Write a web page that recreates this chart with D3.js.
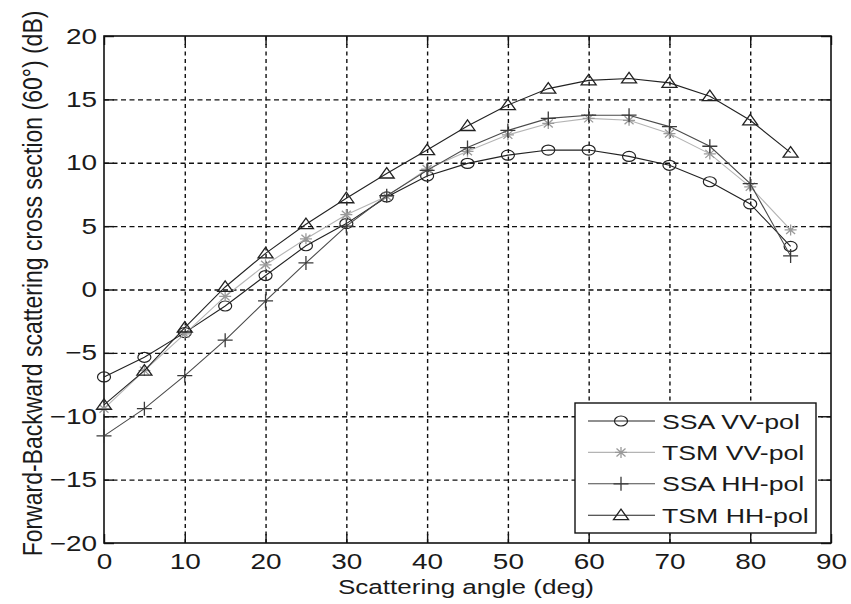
<!DOCTYPE html>
<html>
<head>
<meta charset="utf-8">
<script src="https://cdn.jsdelivr.net/npm/d3@7"></script>
<style>
  body { margin: 0; background: #fff; }
  text { font-family: "Liberation Sans", Arial, sans-serif; fill: #1a1a1a; }
</style>
</head>
<body>
<div id="chart"></div>
<script>
// scattering angle (deg)
var angles = [0, 5, 10, 15, 20, 25, 30, 35, 40, 45, 50, 55, 60, 65, 70, 75, 80, 85];

// cross section values (dB)
var ssaVV = [-6.9, -5.35, -3.4, -1.3, 1.1, 3.45, 5.2, 7.3, 8.95, 9.95, 10.6, 11.0, 11.0, 10.5, 9.8, 8.5, 6.75, 3.4];
var tsmVV = [-9.4, -6.4, -3.5, -0.55, 1.95, 4.0, 5.9, 7.35, 9.5, 10.9, 12.2, 13.1, 13.5, 13.35, 12.3, 10.7, 8.1, 4.7];
var ssaHH = [-11.55, -9.4, -6.8, -4.0, -0.9, 2.1, 5.0, 7.4, 9.4, 11.2, 12.55, 13.5, 13.75, 13.75, 12.85, 11.3, 8.35, 2.65];
var tsmHH = [-9.1, -6.4, -3.0, 0.2, 2.85, 5.15, 7.2, 9.15, 11.0, 12.9, 14.55, 15.85, 16.5, 16.65, 16.3, 15.25, 13.35, 10.8];

var seriesNames = ["SSA VV-pol", "TSM VV-pol", "SSA HH-pol", "TSM HH-pol"];
var xTicks = [0, 10, 20, 30, 40, 50, 60, 70, 80, 90];
var yTicks = [-20, -15, -10, -5, 0, 5, 10, 15, 20];

function init() {
    var W = 851, H = 604;
    var left = 104, right = 831, top = 36, bottom = 543;
    var sx = 1.27; // the picture is stretched sideways

    var series = [
        { name: seriesNames[0], values: ssaVV, line: "#222", mark: "#222", marker: "circle" },
        { name: seriesNames[1], values: tsmVV, line: "#b4b4b4", mark: "#9a9a9a", marker: "star" },
        { name: seriesNames[2], values: ssaHH, line: "#4a4a4a", mark: "#3a3a3a", marker: "plus" },
        { name: seriesNames[3], values: tsmHH, line: "#222", mark: "#222", marker: "triangle" }
    ];

    var xScale = d3.scaleLinear().domain([0, 90]).range([left, right]);
    var yScale = d3.scaleLinear().domain([-20, 20]).range([bottom, top]);

    var svg = d3.select("#chart").append("svg")
        .attr("width", W).attr("height", H);

    svg.append("rect").attr("width", W).attr("height", H).attr("fill", "#fff");

    // dashed grid
    svg.append("g")
        .attr("transform", "translate(0," + bottom + ")")
        .call(d3.axisBottom(xScale).tickValues(xTicks.slice(1, -1)).tickSize(-(bottom - top)).tickFormat(""))
        .call(function (g) { g.select(".domain").remove(); })
        .selectAll("line").attr("stroke", "#111").attr("stroke-width", 1.4).attr("stroke-dasharray", "4,3.5");

    svg.append("g")
        .attr("transform", "translate(" + left + ",0)")
        .call(d3.axisLeft(yScale).tickValues(yTicks.slice(1, -1)).tickSize(-(right - left)).tickFormat(""))
        .call(function (g) { g.select(".domain").remove(); })
        .selectAll("line").attr("stroke", "#111").attr("stroke-width", 1.4).attr("stroke-dasharray", "5,3.5");

    // axes with inward ticks on all sides
    var xAxis = svg.append("g")
        .attr("transform", "translate(0," + bottom + ")")
        .call(d3.axisBottom(xScale).tickValues(xTicks).tickSizeInner(-9).tickSizeOuter(0).tickPadding(10));
    var xTop = svg.append("g")
        .attr("transform", "translate(0," + top + ")")
        .call(d3.axisTop(xScale).tickValues(xTicks).tickSizeInner(-9).tickSizeOuter(0).tickFormat(""));
    var yAxis = svg.append("g")
        .attr("transform", "translate(" + left + ",0)")
        .call(d3.axisLeft(yScale).tickValues(yTicks).tickSizeInner(-10).tickSizeOuter(0).tickPadding(5.5));
    var yRight = svg.append("g")
        .attr("transform", "translate(" + right + ",0)")
        .call(d3.axisRight(yScale).tickValues(yTicks).tickSizeInner(-10).tickSizeOuter(0).tickFormat(""));

    [xAxis, xTop, yAxis, yRight].forEach(function (g) {
        g.select(".domain").remove();
        g.selectAll("line").attr("stroke", "#111").attr("stroke-width", 1.4);
    });

    xAxis.selectAll("text").attr("font-size", 22).attr("fill", "#1a1a1a")
        .attr("transform", "scale(" + sx + ",1)");
    yAxis.selectAll("text").attr("font-size", 22).attr("fill", "#1a1a1a")
        .attr("transform", "scale(" + sx + ",1)");

    // box
    svg.append("rect")
        .attr("x", left).attr("y", top)
        .attr("width", right - left).attr("height", bottom - top)
        .attr("fill", "none").attr("stroke", "#111").attr("stroke-width", 1.6);

    // marker shapes, stretched like the picture
    function drawMarker(g, type, color) {
        if (type === "circle") {
            g.append("ellipse").attr("rx", 6.5).attr("ry", 5)
                .attr("fill", "none").attr("stroke", color).attr("stroke-width", 1.2);
        } else if (type === "triangle") {
            g.append("path").attr("d", "M0,-6L7.5,4.5L-7.5,4.5Z")
                .attr("fill", "none").attr("stroke", color).attr("stroke-width", 1.3);
        } else if (type === "plus") {
            g.append("path").attr("d", "M-7.5,0H7.5M0,-7V7")
                .attr("fill", "none").attr("stroke", color).attr("stroke-width", 1.3);
        } else if (type === "star") {
            g.append("path").attr("d", "M-6,0H6M0,-5.5V5.5M-4.5,-4L4.5,4M-4.5,4L4.5,-4")
                .attr("fill", "none").attr("stroke", color).attr("stroke-width", 1.3);
        }
    }

    var line = d3.line()
        .x(function (d) { return xScale(d[0]); })
        .y(function (d) { return yScale(d[1]); });

    series.forEach(function (s) {
        var pts = angles.map(function (a, i) { return [a, s.values[i]]; });
        svg.append("path")
            .datum(pts)
            .attr("fill", "none")
            .attr("stroke", s.line)
            .attr("stroke-width", 1.1)
            .attr("d", line);
        svg.append("g").selectAll("g")
            .data(pts)
            .enter().append("g")
            .attr("transform", function (d) { return "translate(" + xScale(d[0]) + "," + yScale(d[1]) + ")"; })
            .each(function () { drawMarker(d3.select(this), s.marker, s.mark); });
    });

    // legend
    var lg = svg.append("g");
    lg.append("rect")
        .attr("x", 575).attr("y", 403)
        .attr("width", 241).attr("height", 130)
        .attr("fill", "#fff").attr("stroke", "#111").attr("stroke-width", 1.4);
    series.forEach(function (s, i) {
        var cy = 421 + i * 31.4;
        lg.append("line")
            .attr("x1", 588).attr("x2", 655).attr("y1", cy).attr("y2", cy)
            .attr("stroke", s.line).attr("stroke-width", 1.1);
        drawMarker(lg.append("g").attr("transform", "translate(621," + cy + ")"), s.marker, s.mark);
        lg.append("text")
            .attr("transform", "translate(662," + (cy + 7.5) + ") scale(" + sx + ",1)")
            .attr("font-size", 21)
            .text(s.name);
    });

    // axis titles
    svg.append("text")
        .attr("transform", "translate(466,594) scale(" + sx + ",1)")
        .attr("text-anchor", "middle")
        .attr("font-size", 20.5)
        .text("Scattering angle (deg)");

    svg.append("text")
        .attr("transform", "translate(42,283.5) scale(1.22,1) rotate(-90)")
        .attr("text-anchor", "middle")
        .attr("font-size", 23)
        .text("Forward-Backward scattering cross section (60°) (dB)");
}

window.onload = init;
</script>
</body>
</html>
